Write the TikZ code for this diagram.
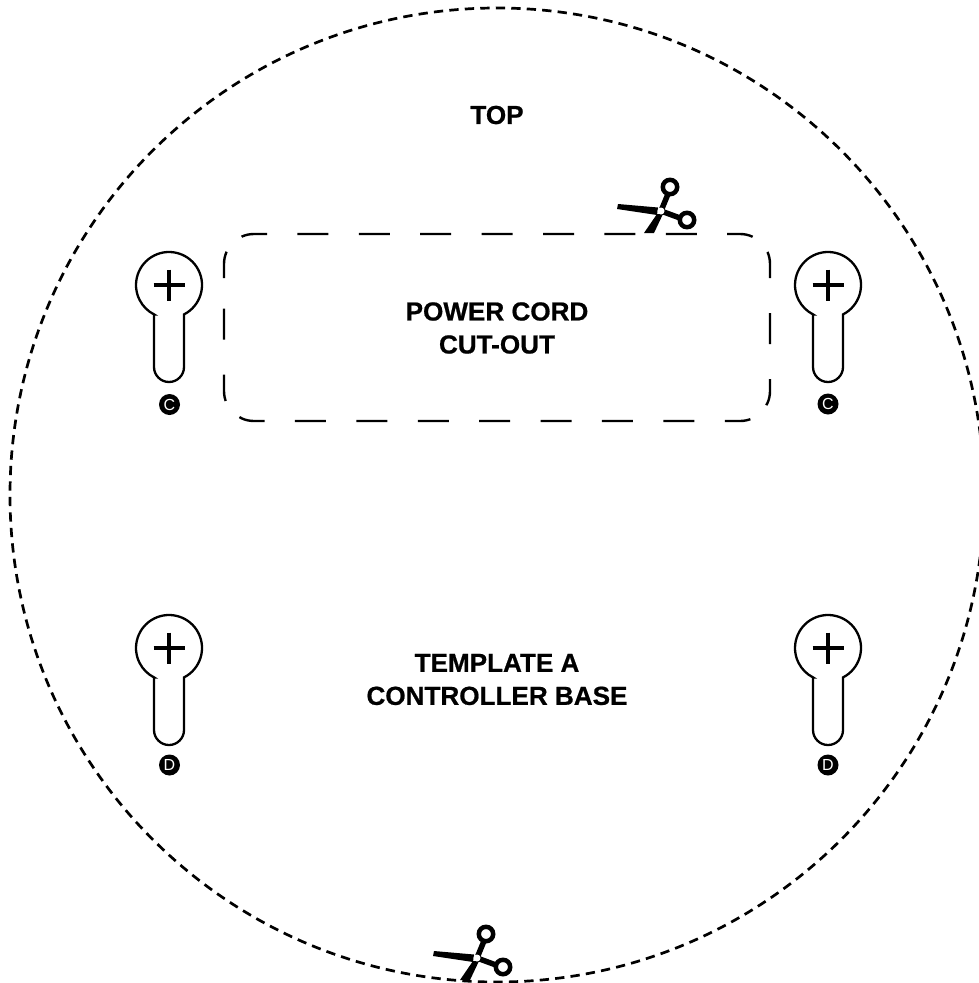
\documentclass[tikz,border=0pt]{standalone}
\usepackage{fontspec}
\setmainfont{Liberation Sans}[BoldFeatures={FakeBold=0.7}]
\usepackage{tikz}
\tikzset{
  trimline/.style={black, line width=2.7pt, dash pattern=on 9.3pt off 6.2pt},
  holeline/.style={black, line width=2.3pt},
  cuttext/.style={font=\fontsize{26.1}{33}\selectfont\bfseries, align=center},
  marktext/.style={circle, fill=black, text=white, inner sep=0pt, minimum size=21pt, font=\fontsize{16}{16}\selectfont},
  cordline/.style={black, line width=2.4pt, rounded corners=30pt, dash pattern=on 26.6pt off 21.7pt on 25.8pt off 30.4pt on 31pt off 30.4pt on 31pt off 30.4pt on 31pt off 30.4pt on 31pt off 30.4pt on 31pt off 30.4pt on 31pt off 30.4pt on 31pt off 30.4pt on 25.8pt off 21.7pt on 26.6pt off 35pt on 31pt off 35pt},
  keyhole/.pic={
    \draw [holeline] (-15,29.4) -- (-15,82) arc [start angle=180, end angle=0, radius=15] -- (15,29.4)
      arc [start angle=63, end angle=-243, radius=33] -- cycle;
    \draw [black, line width=3.2pt] (-15.5,0) -- (15.5,0);
    \draw [black, line width=3.2pt] (0,-15.5) -- (0,15.5);
  },
  scissors/.pic={
    % blades
    \fill [black] (-43,-7) -- (-3,-3.5) -- (-4,4) -- (-44,-2) -- cycle;
    \fill [black] (2,3) -- (-7,22) -- (-17,22) -- (-4,3) -- cycle;
    % handles
    \draw [black, line width=5.5pt] (0,0) -- (7,-17);
    \draw [black, line width=5.5pt] (0,0) -- (19,7);
    \draw [black, line width=4.5pt] (9,-24) circle [radius=7.2];
    \draw [black, line width=4.5pt] (26,9) circle [radius=7.2];
    \fill [white] (0,0) circle [radius=3.5];
  }
}
\begin{document}
\begin{tikzpicture}[x=1pt,y=-1pt]
\useasboundingbox (0,0) rectangle (979,983);
\clip (0,0) rectangle (979,983);
\draw [trimline] (497,495) circle [radius=487];
\draw [cordline] (224,278) -- (224,234) -- (770,234) -- (770,421) -- (224,421) -- (224,278);

\foreach \kx in {169,828} {
  \pic at (\kx,285) {keyhole};
  \pic at (\kx,648) {keyhole};
}
\node [marktext] (markcl) at (169.5,404.5) {C};
\node [marktext] (markcr) at (828,404) {C};
\node [marktext] (markdl) at (169.5,765) {D};
\node [marktext] (markdr) at (828,765) {D};

\pic at (661,211) {scissors};
\pic at (477,958) {scissors};

\node [cuttext] (toplabel) at (497,115) {TOP};
\node [cuttext] (cordlabel) at (497,328) {POWER CORD\\CUT-OUT};
\node [cuttext] (baselabel) at (497,679.5) {TEMPLATE A\\CONTROLLER BASE};
\end{tikzpicture}
\end{document}
